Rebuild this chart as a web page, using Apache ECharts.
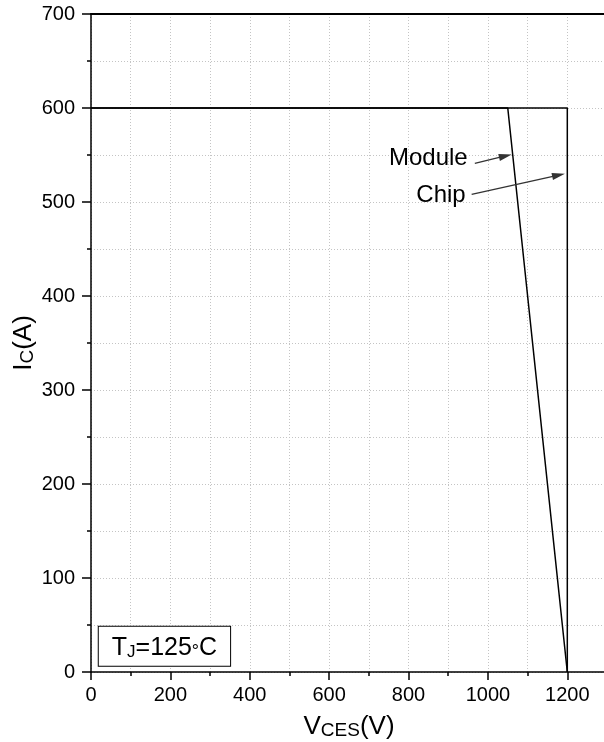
<!DOCTYPE html>
<html>
<head>
<meta charset="utf-8">
<script src="https://cdn.jsdelivr.net/npm/echarts@6/dist/echarts.min.js"></script>
<style>html,body{margin:0;padding:0;background:#fff}#c{width:604px;height:742px}</style>
</head>
<body>
<div id="c"></div>
<script>
// Data
const chipV = [0, 1200, 1200];
const chipI = [600, 600, 0];
const moduleV = [0, 1050, 1200];
const moduleI = [600, 600, 0];
const xMin = 0, xMax = 1300, xMajor = 200, xMinor = 100;
const yMin = 0, yMax = 700, yMajor = 100;
// Annotations: [tailV, tailI, headCenterV, headCenterI]
const moduleArrow = [967, 541, 1044, 549];
const chipArrow = [959, 508, 1178, 528.6];
const moduleLabelPos = [949, 546.5];
const chipLabelPos = [944, 507];
const tjLabelPos = [185, 27.5];

const FONT = '"Liberation Sans", Arial, Helvetica, sans-serif';
const chart = echarts.init(document.getElementById('c'), null, {renderer: 'canvas'});
const dotted = {show: true, lineStyle: {color: '#c4c4c4', width: 1, type: [1, 2]}};

function pairs(xs, ys) { return xs.map((x, i) => [x, ys[i]]); }
const plain = v => String(v);

const option = {
  animation: false,
  backgroundColor: '#fff',
  textStyle: {fontFamily: FONT, color: '#000'},
  grid: {left: 91, top: 14, width: 516, height: 658, containLabel: false, outerBoundsMode: 'none'},
  xAxis: [
    {
      type: 'value', min: xMin, max: xMax, interval: xMajor, position: 'bottom',
      axisLine: {show: true, onZero: false, lineStyle: {color: '#000', width: 1.5}},
      axisTick: {show: true, inside: false, length: 8, lineStyle: {color: '#000', width: 1.5}},
      axisLabel: {show: true, fontSize: 20, color: '#000', margin: 13, showMaxLabel: false, fontFamily: FONT, formatter: plain},
      splitLine: {show: false},
      name: '{a|V}{b|CES}{a|(V)}', nameLocation: 'middle', nameGap: 38, nameMoveOverlap: false,
      nameTextStyle: {fontFamily: FONT, color: '#000', rich: {
        a: {fontSize: 26, lineHeight: 30, verticalAlign: 'bottom', fontFamily: FONT, color: '#000'},
        b: {fontSize: 19, lineHeight: 25, verticalAlign: 'bottom', fontFamily: FONT, color: '#000'}
      }}
    },
    {
      type: 'value', min: xMin, max: xMax, interval: xMinor, position: 'bottom',
      axisLine: {show: false},
      axisTick: {show: true, inside: false, length: 4, lineStyle: {color: '#000', width: 1.5}},
      axisLabel: {show: false},
      splitLine: dotted
    },
    {
      type: 'value', min: xMin, max: xMax, position: 'top',
      axisLine: {show: true, onZero: false, lineStyle: {color: '#000', width: 2}},
      axisTick: {show: false}, axisLabel: {show: false}, splitLine: {show: false}
    }
  ],
  yAxis: {
    type: 'value', min: yMin, max: yMax, interval: yMajor,
    axisLine: {show: true, onZero: false, lineStyle: {color: '#000', width: 1.5}},
    axisTick: {show: true, inside: false, length: 9, lineStyle: {color: '#000', width: 1.5}},
    minorTick: {show: true, splitNumber: 2, length: 4, lineStyle: {color: '#000', width: 1.5}},
    axisLabel: {fontSize: 20, color: '#000', margin: 16, fontFamily: FONT, formatter: plain},
    splitLine: dotted,
    minorSplitLine: dotted,
    name: '{a|I}{b|C}{a|(A)}', nameLocation: 'middle', nameGap: 54, nameRotate: 90, nameMoveOverlap: false,
    nameTextStyle: {fontFamily: FONT, color: '#000', rich: {
      a: {fontSize: 26, lineHeight: 30, verticalAlign: 'bottom', fontFamily: FONT, color: '#000'},
      b: {fontSize: 19, lineHeight: 25, verticalAlign: 'bottom', fontFamily: FONT, color: '#000'}
    }}
  },
  series: [
    {
      name: 'Chip', type: 'line', xAxisIndex: 0, data: pairs(chipV, chipI),
      showSymbol: false, symbol: 'none', lineStyle: {color: '#000', width: 1.5},
      markLine: {
        silent: true, symbol: ['none', 'triangle'], symbolSize: [7, 13],
        label: {show: false}, lineStyle: {color: '#333', width: 1.3, type: 'solid'},
        itemStyle: {color: '#222'},
        data: [[{coord: [chipArrow[0], chipArrow[1]]}, {coord: [chipArrow[2], chipArrow[3]]}]]
      },
      markPoint: {
        silent: true, symbol: 'circle', symbolSize: 0,
        itemStyle: {color: 'rgba(0,0,0,0)'},
        label: {show: true, position: 'left', distance: 0, fontSize: 24, color: '#000', fontFamily: FONT},
        data: [
          {coord: chipLabelPos, value: 'Chip', label: {formatter: 'Chip'}},
          {coord: tjLabelPos, value: 'TJ', label: {
            position: 'inside',
            formatter: '{a|T}{b|J}{a|=125}{c|°}{a|C}',
            backgroundColor: '#fff', borderColor: '#000', borderWidth: 1,
            padding: [5, 13],
            rich: {
              a: {fontSize: 25, lineHeight: 29, verticalAlign: 'bottom', fontFamily: FONT, color: '#000'},
              b: {fontSize: 17, lineHeight: 23.4, verticalAlign: 'bottom', fontFamily: FONT, color: '#000'},
              c: {fontSize: 18, lineHeight: 24.1, verticalAlign: 'bottom', fontFamily: FONT, color: '#000'}
            }
          }}
        ]
      }
    },
    {
      name: 'Module', type: 'line', xAxisIndex: 0, data: pairs(moduleV, moduleI),
      showSymbol: false, symbol: 'none', lineStyle: {color: '#000', width: 1.5},
      markLine: {
        silent: true, symbol: ['none', 'triangle'], symbolSize: [7, 13],
        label: {show: false}, lineStyle: {color: '#333', width: 1.3, type: 'solid'},
        itemStyle: {color: '#222'},
        data: [[{coord: [moduleArrow[0], moduleArrow[1]]}, {coord: [moduleArrow[2], moduleArrow[3]]}]]
      },
      markPoint: {
        silent: true, symbol: 'circle', symbolSize: 0,
        itemStyle: {color: 'rgba(0,0,0,0)'},
        label: {show: true, position: 'left', distance: 0, fontSize: 24, color: '#000', fontFamily: FONT},
        data: [{coord: moduleLabelPos, value: 'Module', label: {formatter: 'Module'}}]
      }
    }
  ]
};
chart.setOption(option);
</script>
</body>
</html>
